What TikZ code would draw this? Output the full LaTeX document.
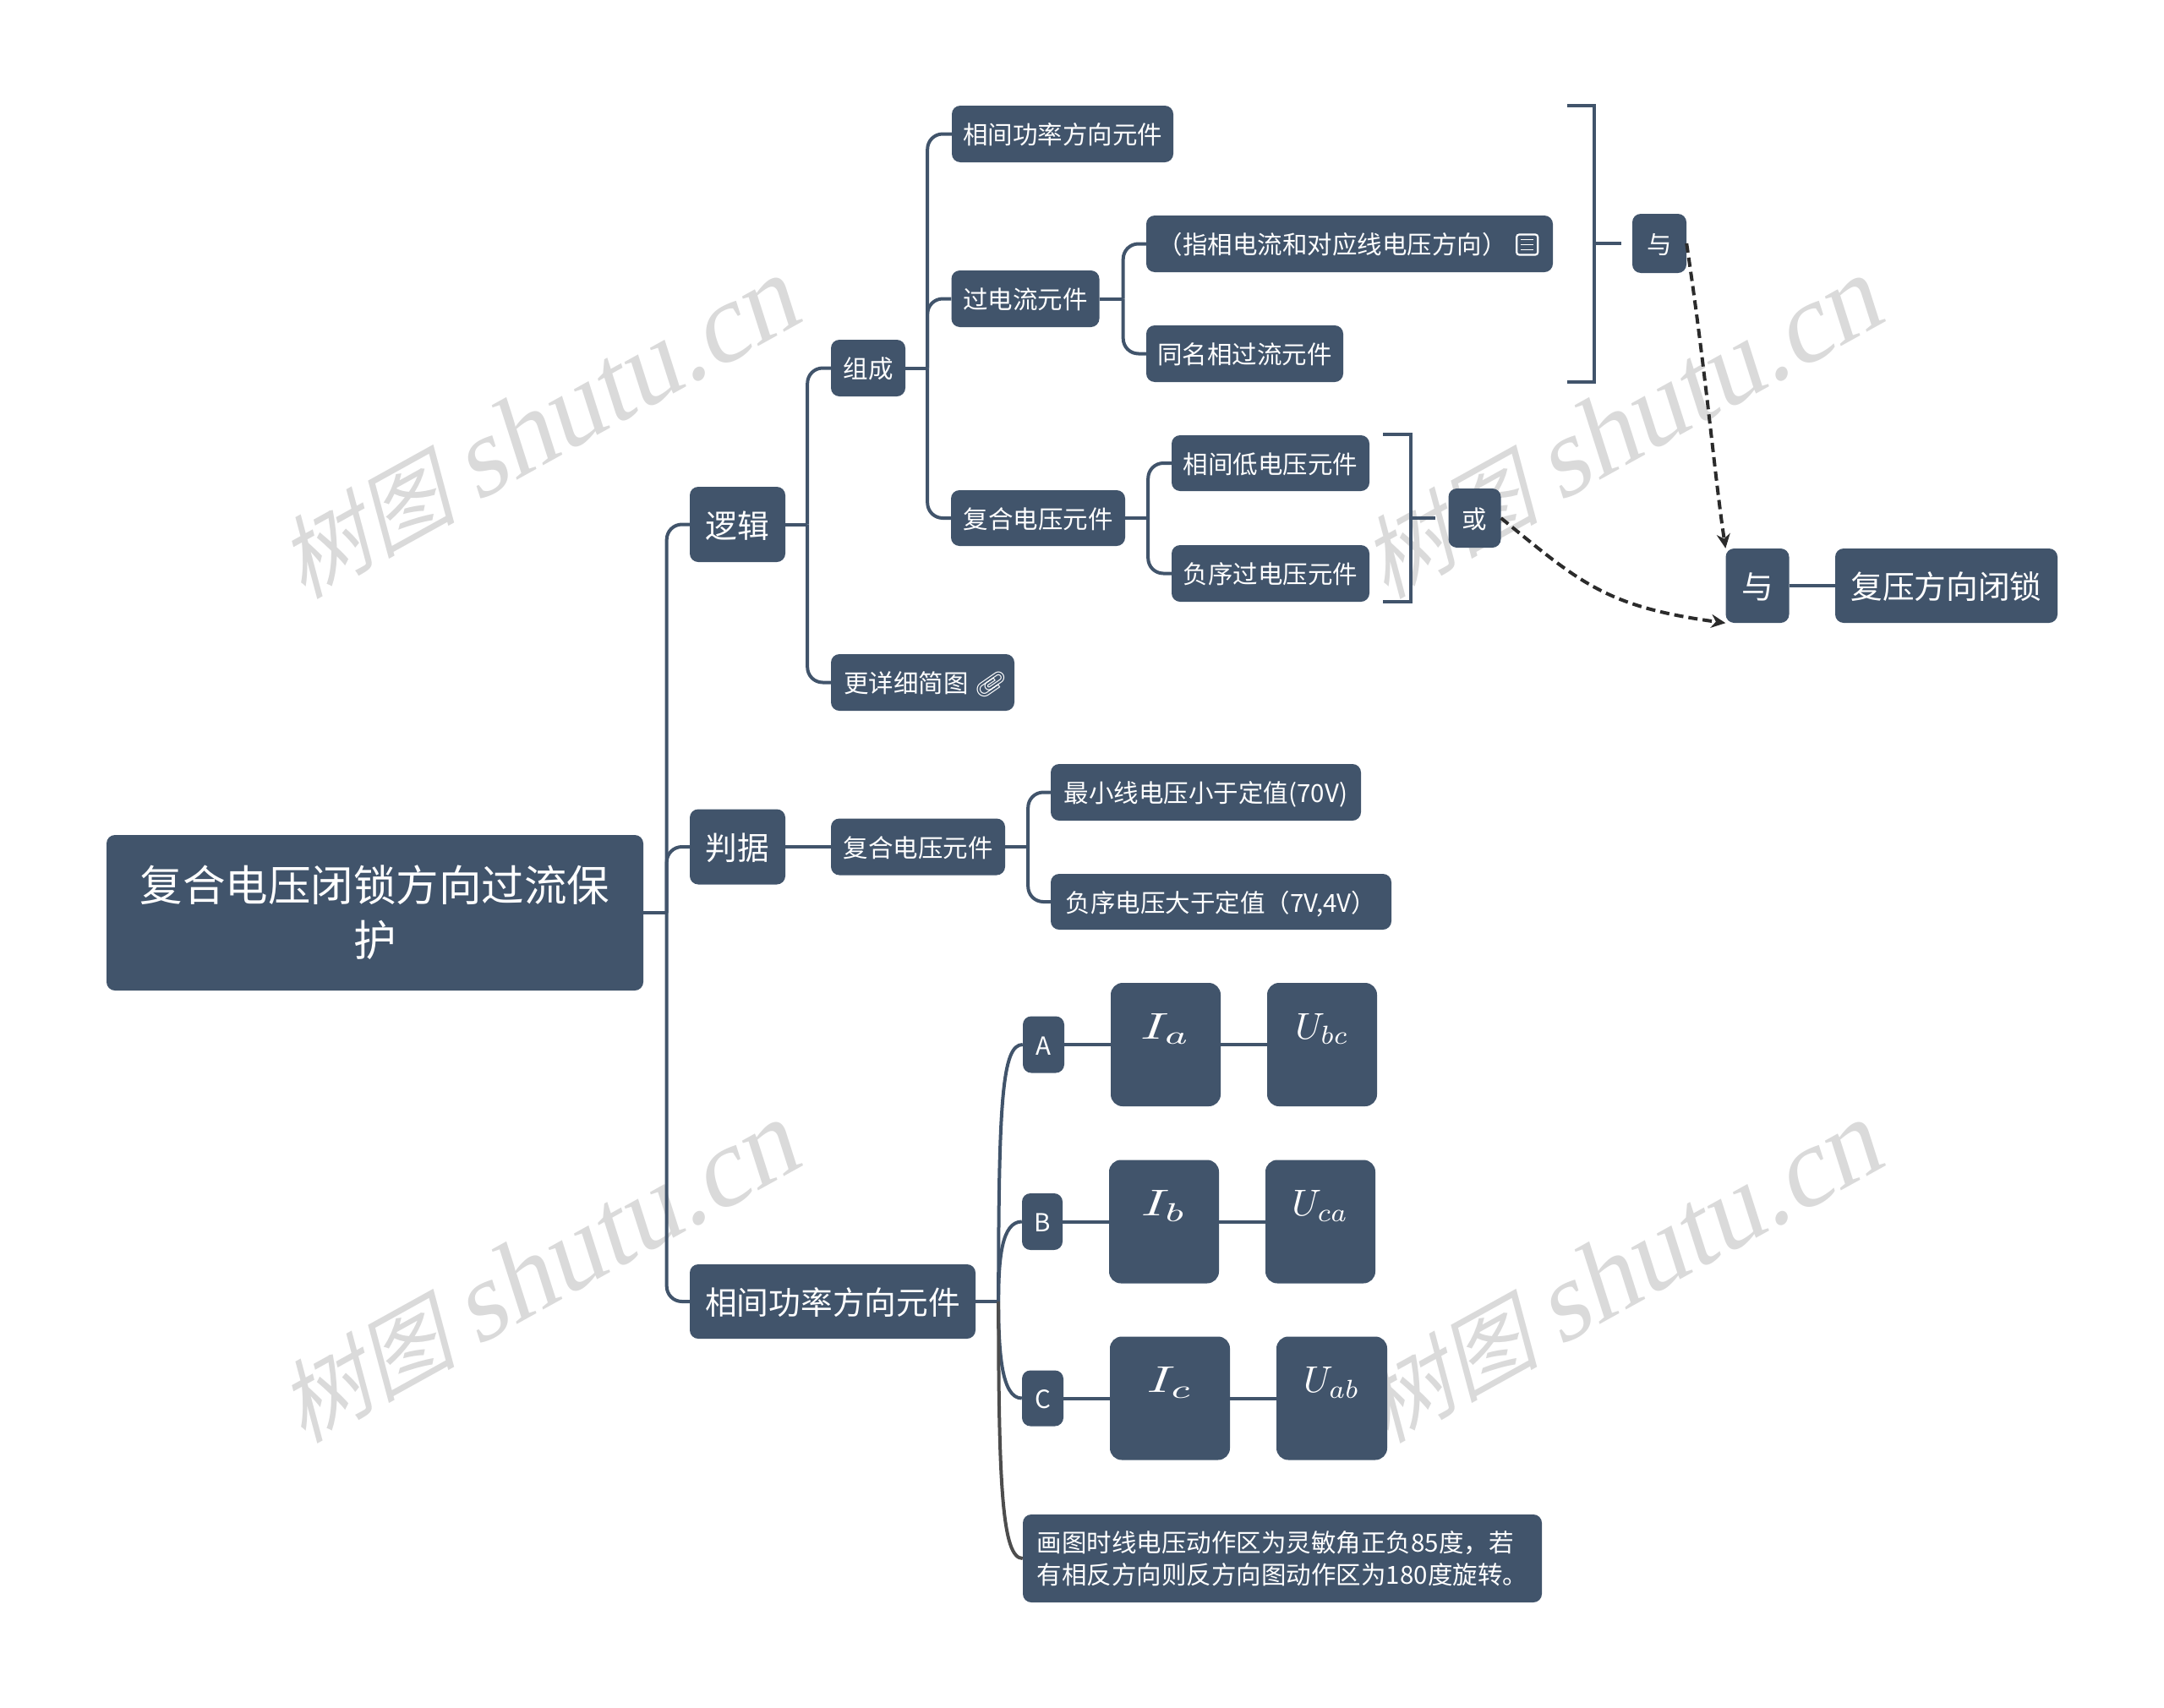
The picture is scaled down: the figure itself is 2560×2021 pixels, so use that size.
\documentclass[tikz,border=0pt]{standalone}
\usepackage{fontspec}
\usetikzlibrary{arrows.meta, calc}
\setmainfont{Noto Sans CJK SC}
\newfontfamily\markfont[FakeSlant=0.25]{Noto Sans CJK SC}
\newfontfamily\marklatin[FakeSlant=0.2]{Liberation Serif}
\newfontfamily\emojifont{Noto Emoji}
\definecolor{slate}{RGB}{65,84,107}
\definecolor{markgrey}{RGB}{218,218,218}
\definecolor{graphite}{RGB}{77,77,77}
\definecolor{dashline}{RGB}{43,43,43}
\newcommand{\bigmath}[1]{\scalebox{4.4}{$#1$}}
\newcommand{\widemath}[1]{\scalebox{6.4}[4.4]{$#1$}}

\begin{document}
\begin{tikzpicture}[
  x=1pt, y=-1pt,
  box/.style={fill=slate, text=white, rounded corners=10pt, inner sep=0pt},
  size/.style 2 args={minimum width=#1pt, minimum height=#2pt},
  rootbox/.style={box, font=\fontsize{50.5}{65}\selectfont, align=center},
  mainbox/.style={box, font=\fontsize{37.7}{45}\selectfont,
                  text height=34.5pt, text depth=3.3pt},
  subbox/.style={box, font=\fontsize{29.5}{37.5}\selectfont,
                 text height=27pt, text depth=2.6pt},
  notebox/.style={box, font=\fontsize{29.5}{37.5}\selectfont, align=left},
  mathbox/.style={box, rounded corners=14pt,
                  text height=66pt, text depth=80pt},
  wire/.style={draw=slate, line width=4pt},
  branch/.style={wire, rounded corners=18pt},
  greywire/.style={draw=graphite, line width=4pt},
  logicarrow/.style={draw=dashline, line width=4pt, dash pattern=on 11pt off 6pt,
                     -{Stealth[length=17pt, width=16pt]}},
  icon/.style={draw=white, line width=2.2pt},
  watermark/.style={text=markgrey, rotate=29},
]
\useasboundingbox (0,0) rectangle (2560,2021);

% watermarks
\foreach \mx/\my [count=\i] in {635/508, 1916/508, 635/1507, 1916/1507}
  \node[watermark] (mark\i) at (\mx,\my) {\fontsize{106}{110}\selectfont\markfont 树图 \fontsize{132}{110}\selectfont\marklatin shutu.cn};

% root and first level
\node[rootbox, size={635}{184}] (root) at (443.5,1080) {复合电压闭锁方向过流保\\护};
\node[mainbox, size={113}{89}] (logic) at (872.5,620.5) {逻辑};
\node[mainbox, size={113}{89}] (judge) at (872.5,1002) {判据};
\node[mainbox, size={338}{88}] (phase) at (985,1540) {相间功率方向元件};

% logic branch
\node[subbox, size={88}{67}] (parts) at (1027,435.5) {组成};
\node[subbox, size={217}{67}] (more) at (1091.5,807.5) {更详细简图\hspace{8pt}{\emojifont\rotatebox[origin=c]{-100}{📎}}\kern-5pt};
\node[subbox, size={262}{67}] (power) at (1257,158.5) {相间功率方向元件};
\node[subbox, size={175}{67}] (current) at (1213,353.5) {过电流元件};
\node[subbox, size={206}{66}] (voltage) at (1228,613) {复合电压元件};
\node[subbox, size={481}{67}] (hint) at (1596.5,288.5) {（指相电流和对应线电压方向）\kern41pt};
\node[subbox, size={233}{67}] (same) at (1472.5,418.5) {同名相过流元件};
\node[subbox, size={234}{66}] (lowv) at (1503,548) {相间低电压元件};
\node[subbox, size={234}{67}] (negv) at (1503,678.5) {负序过电压元件};
\node[subbox, size={64}{70}] (andup) at (1963,288) {与};
\node[subbox, size={62}{70}] (orlow) at (1744.5,613) {或};
\node[mainbox, size={75}{88}] (andbig) at (2079,693) {与};
\node[mainbox, size={263}{88}] (lock) at (2302.5,693) {复压方向闭锁};

% criteria branch
\node[subbox, size={206}{67}] (judgev) at (1086,1002) {复合电压元件};
\node[subbox, size={367}{67}] (minv) at (1426.5,937.5) {最小线电压小于定值(70V)};
\node[subbox, size={403}{66}] (negset) at (1444.5,1067) {负序电压大于定值（7V,4V）};

% phase branch
\node[subbox, size={49}{67}] (pa) at (1234.5,1236) {A};
\node[subbox, size={48}{67}] (pb) at (1233,1445.5) {B};
\node[subbox, size={49}{66}] (pc) at (1233.5,1654.5) {C};
\node[mathbox, size={130}{146}] (ia) at (1379,1236) {\widemath{I_a}};
\node[mathbox, size={130}{146}] (ubc) at (1564,1236) {\bigmath{U_{bc}}};
\node[mathbox, size={130}{146}] (ib) at (1377,1445.5) {\widemath{I_b}};
\node[mathbox, size={130}{146}] (uca) at (1562,1445.5) {\bigmath{U_{ca}}};
\node[mathbox, size={142}{146}] (ic) at (1384,1654.5) {\widemath{I_c}};
\node[mathbox, size={131}{146}] (uab) at (1575.5,1654.5) {\bigmath{U_{ab}}};
\node[notebox, size={614}{104}] (note) at (1517,1844) {画图时线电压动作区为灵敏角正负85度，若\\有相反方向则反方向图动作区为180度旋转。};

% forks
\coordinate (rootfork) at ($(root.east)+(27.5,0)$);
\coordinate (logicfork) at ($(logic.east)+(26,0)$);
\coordinate (partsfork) at ($(parts.east)+(26,0)$);
\coordinate (currentfork) at ($(current.east)+(28,0)$);
\coordinate (voltagefork) at ($(voltage.east)+(27,0)$);
\coordinate (judgefork) at ($(judgev.east)+(27,0)$);
\coordinate (phasefork) at ($(phase.east)+(27,0)$);

\draw[wire] (root.east) -- (rootfork);
\foreach \k in {logic, judge, phase}
  \draw[branch] (rootfork) |- (\k.west);
\draw[wire] (logic.east) -- (logicfork);
\foreach \k in {parts, more}
  \draw[branch] (logicfork) |- (\k.west);
\draw[wire] (parts.east) -- (partsfork);
\foreach \k in {power, current, voltage}
  \draw[branch] (partsfork) |- (\k.west);
\draw[wire] (current.east) -- (currentfork);
\foreach \k in {hint, same}
  \draw[branch] (currentfork) |- (\k.west);
\draw[wire] (voltage.east) -- (voltagefork);
\foreach \k in {lowv, negv}
  \draw[branch] (voltagefork) |- (\k.west);
\draw[wire] (judge.east) -- (judgev.west);
\draw[wire] (judgev.east) -- (judgefork);
\foreach \k in {minv, negset}
  \draw[branch] (judgefork) |- (\k.west);
\draw[wire] (phase.east) -- (phasefork);
\draw[wire] (phasefork) .. controls ($(phasefork)+(0,-240)$) and ($(pa.west)+(-24,0)$) .. (pa.west);
\draw[wire] (phasefork) .. controls ($(phasefork)+(0,-50)$) and ($(pb.west)+(-24,0)$) .. (pb.west);
\draw[wire] (phasefork) .. controls ($(phasefork)+(0,60)$) and ($(pc.west)+(-24,0)$) .. (pc.west);
\draw[greywire] (phasefork) .. controls ($(phasefork)+(0,220)$) and ($(note.west)+(-24,0)$) .. (note.west);
\draw[wire] (pa.east) -- (ia.west);
\draw[wire] (ia.east) -- (ubc.west);
\draw[wire] (pb.east) -- (ib.west);
\draw[wire] (ib.east) -- (uca.west);
\draw[wire] (pc.east) -- (ic.west);
\draw[wire] (ic.east) -- (uab.west);
\draw[wire] (andbig.east) -- (lock.west);

% brackets
\coordinate (upperfrom) at (1854,125);
\coordinate (upperto) at (1854,452);
\coordinate (upperstub) at (1886,288);
\coordinate (lowerfrom) at (1636,514);
\coordinate (lowerto) at (1636,712);
\coordinate (lowerstub) at (1669,613);
\draw[wire] (upperfrom) -- ++(32,0) |- (upperto);
\draw[wire] (upperstub) -- ($(andup.west)+(-13,0)$);
\draw[wire] (lowerfrom) -- ++(33,0) |- (lowerto);
\draw[wire] (lowerstub) -- ($(orlow.west)+(-15,0)$);

% dashed logic
\draw[logicarrow] (andup.east) .. controls (2018,440) and (2028,560) .. (andbig.north west);
\draw[logicarrow] (orlow.east) .. controls (1870,690) and (1900,718) .. (andbig.south west);

% note icon
\draw[icon, rounded corners=3pt] ($(hint.east)+(-43,-11)$) rectangle ($(hint.east)+(-18,13)$);
\foreach \h in {-5, 1, 7}
  \draw[icon, line width=1.8pt] ($(hint.east)+(-38,\h)$) -- ($(hint.east)+(-23,\h)$);
\end{tikzpicture}
\end{document}
